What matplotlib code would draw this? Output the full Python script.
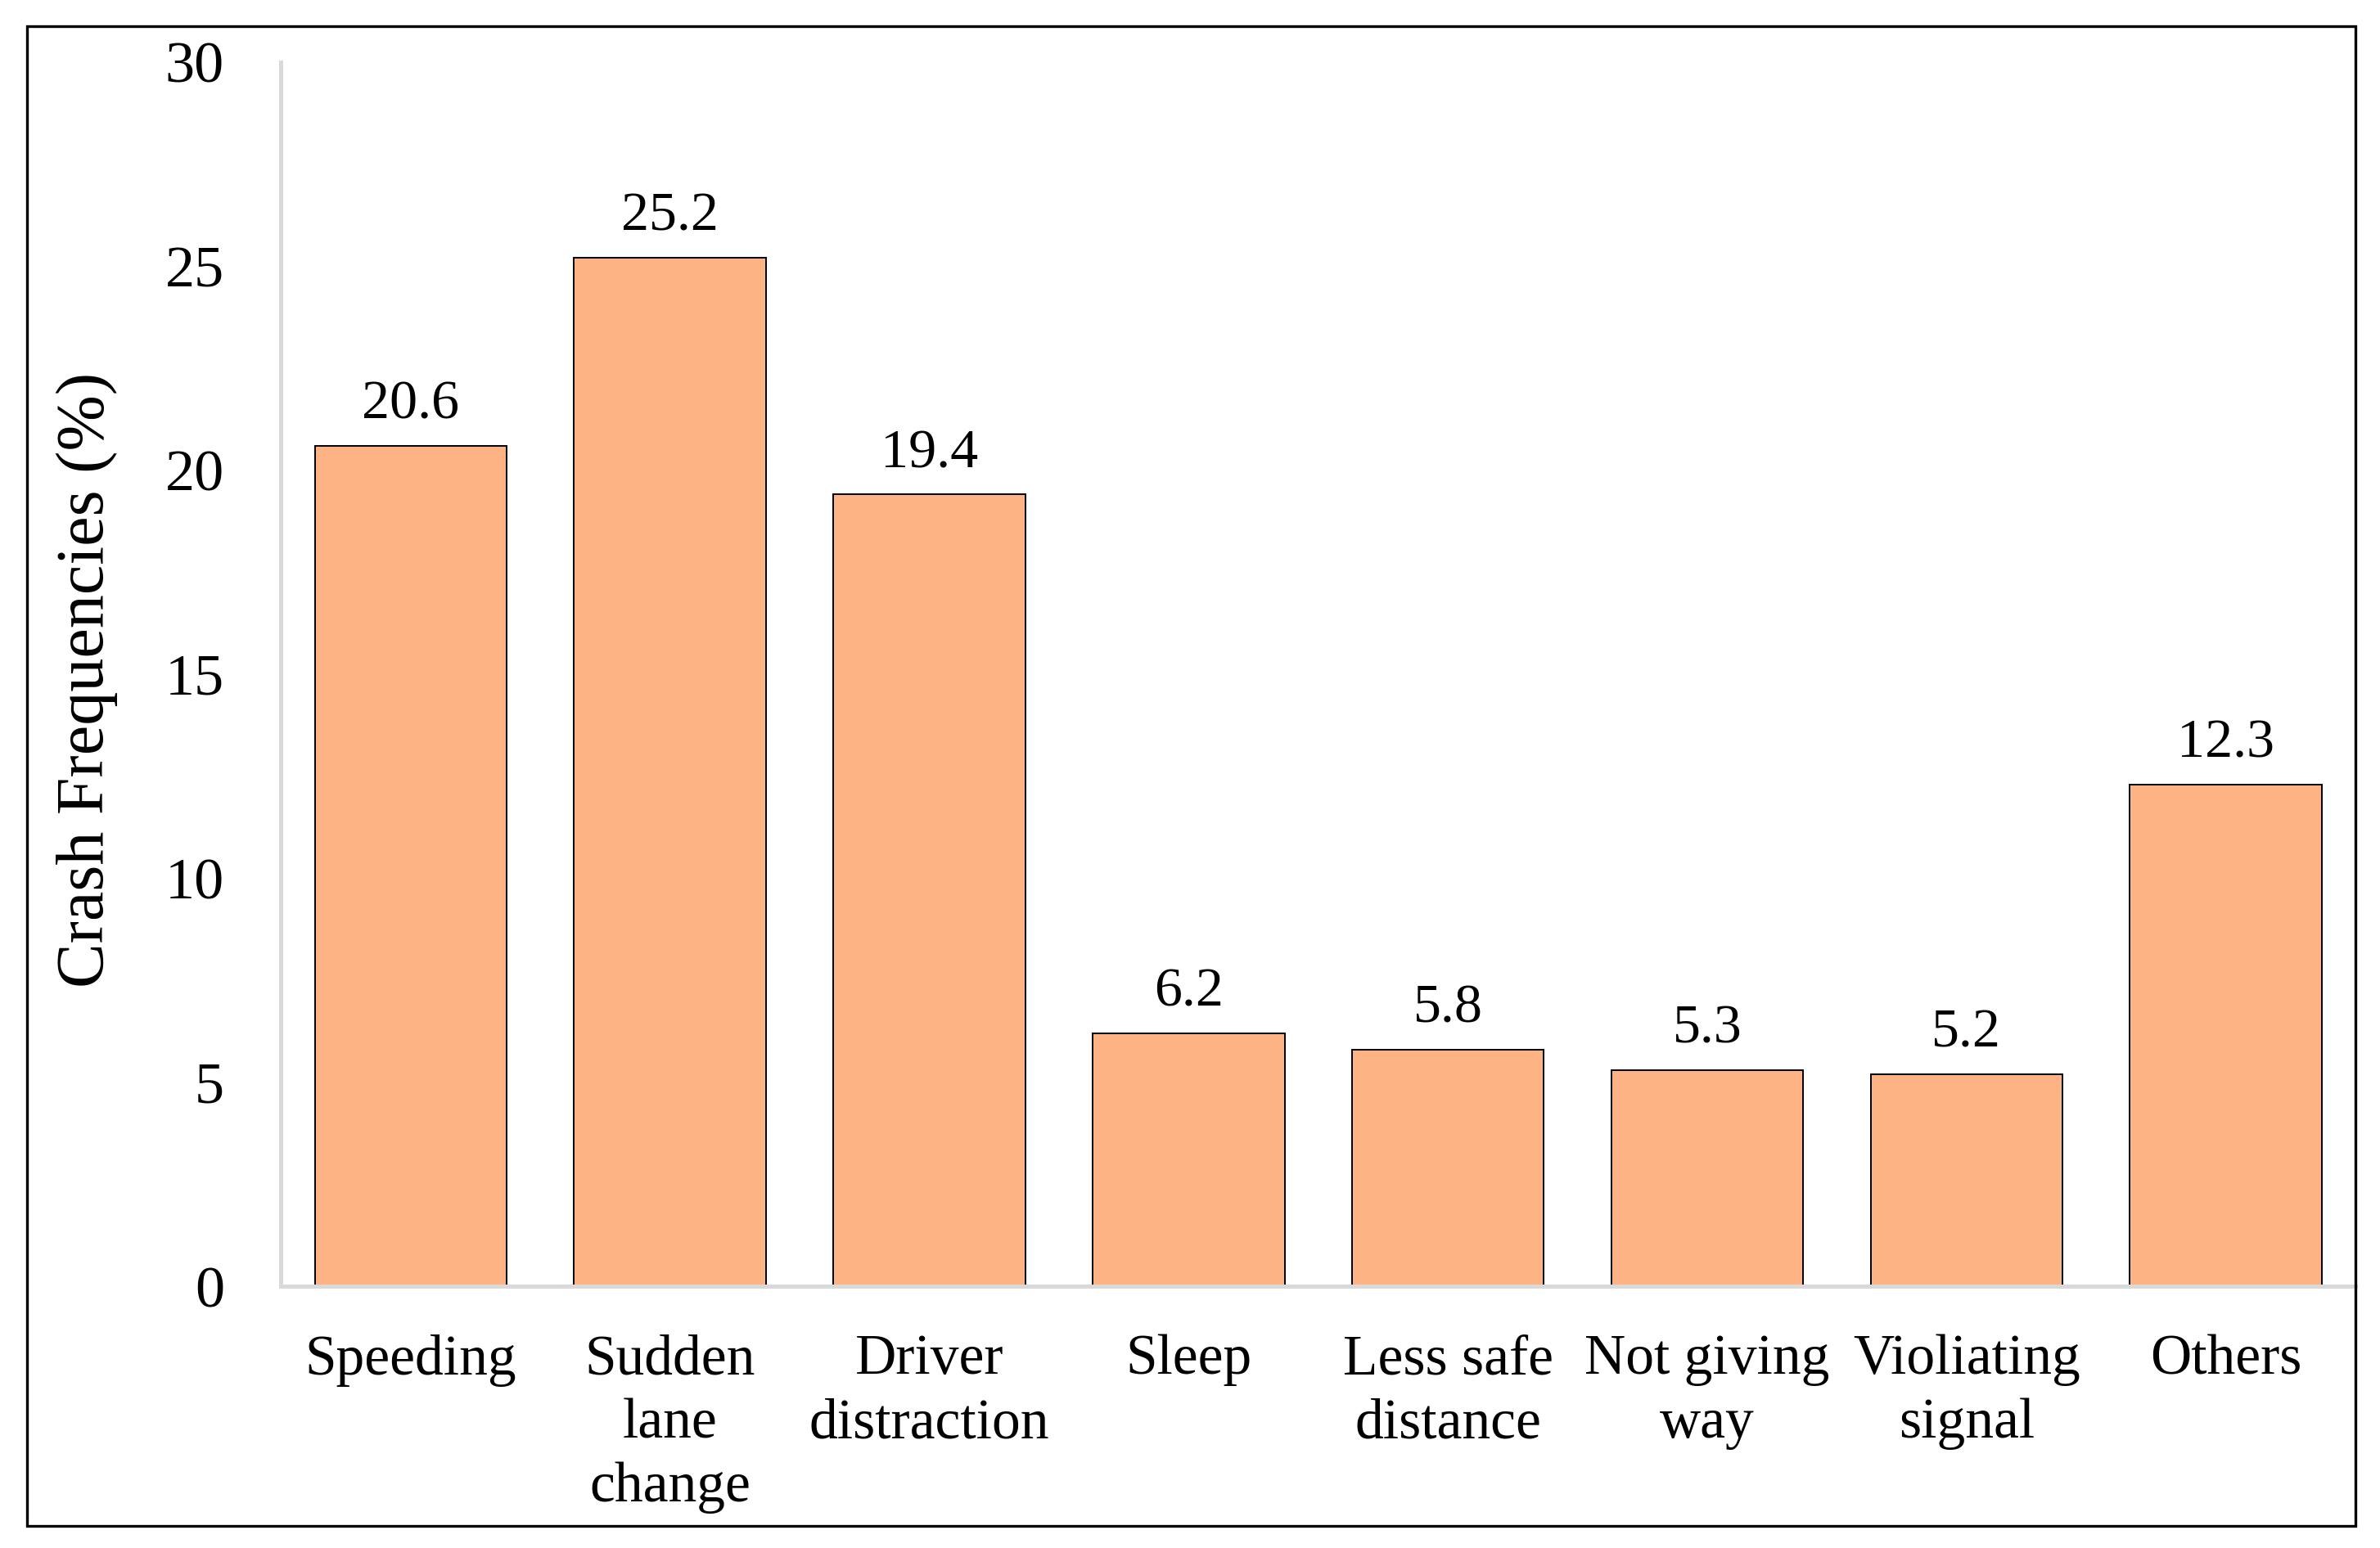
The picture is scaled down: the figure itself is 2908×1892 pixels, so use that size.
import numpy as np
import matplotlib
matplotlib.use("Agg")
import matplotlib.pyplot as plt
from matplotlib.patches import Rectangle

# data
categories = ["Speeding", "Sudden\nlane\nchange", "Driver\ndistraction", "Sleep",
              "Less safe\ndistance", "Not giving\nway", "Violiating\nsignal", "Others"]
frequencies = [20.6, 25.2, 19.4, 6.2, 5.8, 5.3, 5.2, 12.3]
y_ticks = [0, 5, 10, 15, 20, 25, 30]

plt.rcParams['font.family'] = ['Liberation Serif', 'DejaVu Serif']

fig = plt.figure(figsize=(14.54, 9.46), dpi=200)
ax = fig.add_axes([0.1181, 0.169, 0.9897 - 0.1181, 0.960 - 0.169])

x = np.arange(len(categories))
bars = ax.bar(x, frequencies, width=0.74, color='#FDB383', edgecolor='black', linewidth=0.7, zorder=2)

# value labels above bars
for b, v in zip(bars, frequencies):
    ax.annotate(f"{v:.1f}", (b.get_x() + b.get_width() / 2, v), xytext=(0, 7),
                textcoords='offset points', ha='center', va='bottom', fontsize=24.5)

ax.set_xlim(-0.5, len(categories) - 0.5)
ax.set_ylim(0, 30)
ax.set_yticks(y_ticks)
ax.set_xticks(x)
ax.set_xticklabels(categories, fontsize=25, linespacing=1.3)
ax.tick_params(axis='y', length=0, pad=25, labelsize=26)
ax.tick_params(axis='x', length=0, pad=21)

for side in ['top', 'right']:
    ax.spines[side].set_visible(False)
for side in ['left', 'bottom']:
    ax.spines[side].set_color('#d9d9d9')
    ax.spines[side].set_linewidth(1.8)
    ax.spines[side].set_zorder(3)

fig.text(0.0364, 0.561, "Crash Frequencies (%)", rotation=90, ha='center', va='center', fontsize=29.5)

# outer frame
frame = Rectangle((0.0115, 0.0143), 0.9897 - 0.0115, 0.983 - 0.0143, transform=fig.transFigure,
                  fill=False, edgecolor='black', linewidth=1.2)
fig.patches.append(frame)

fig.savefig("out.png", dpi=200)
